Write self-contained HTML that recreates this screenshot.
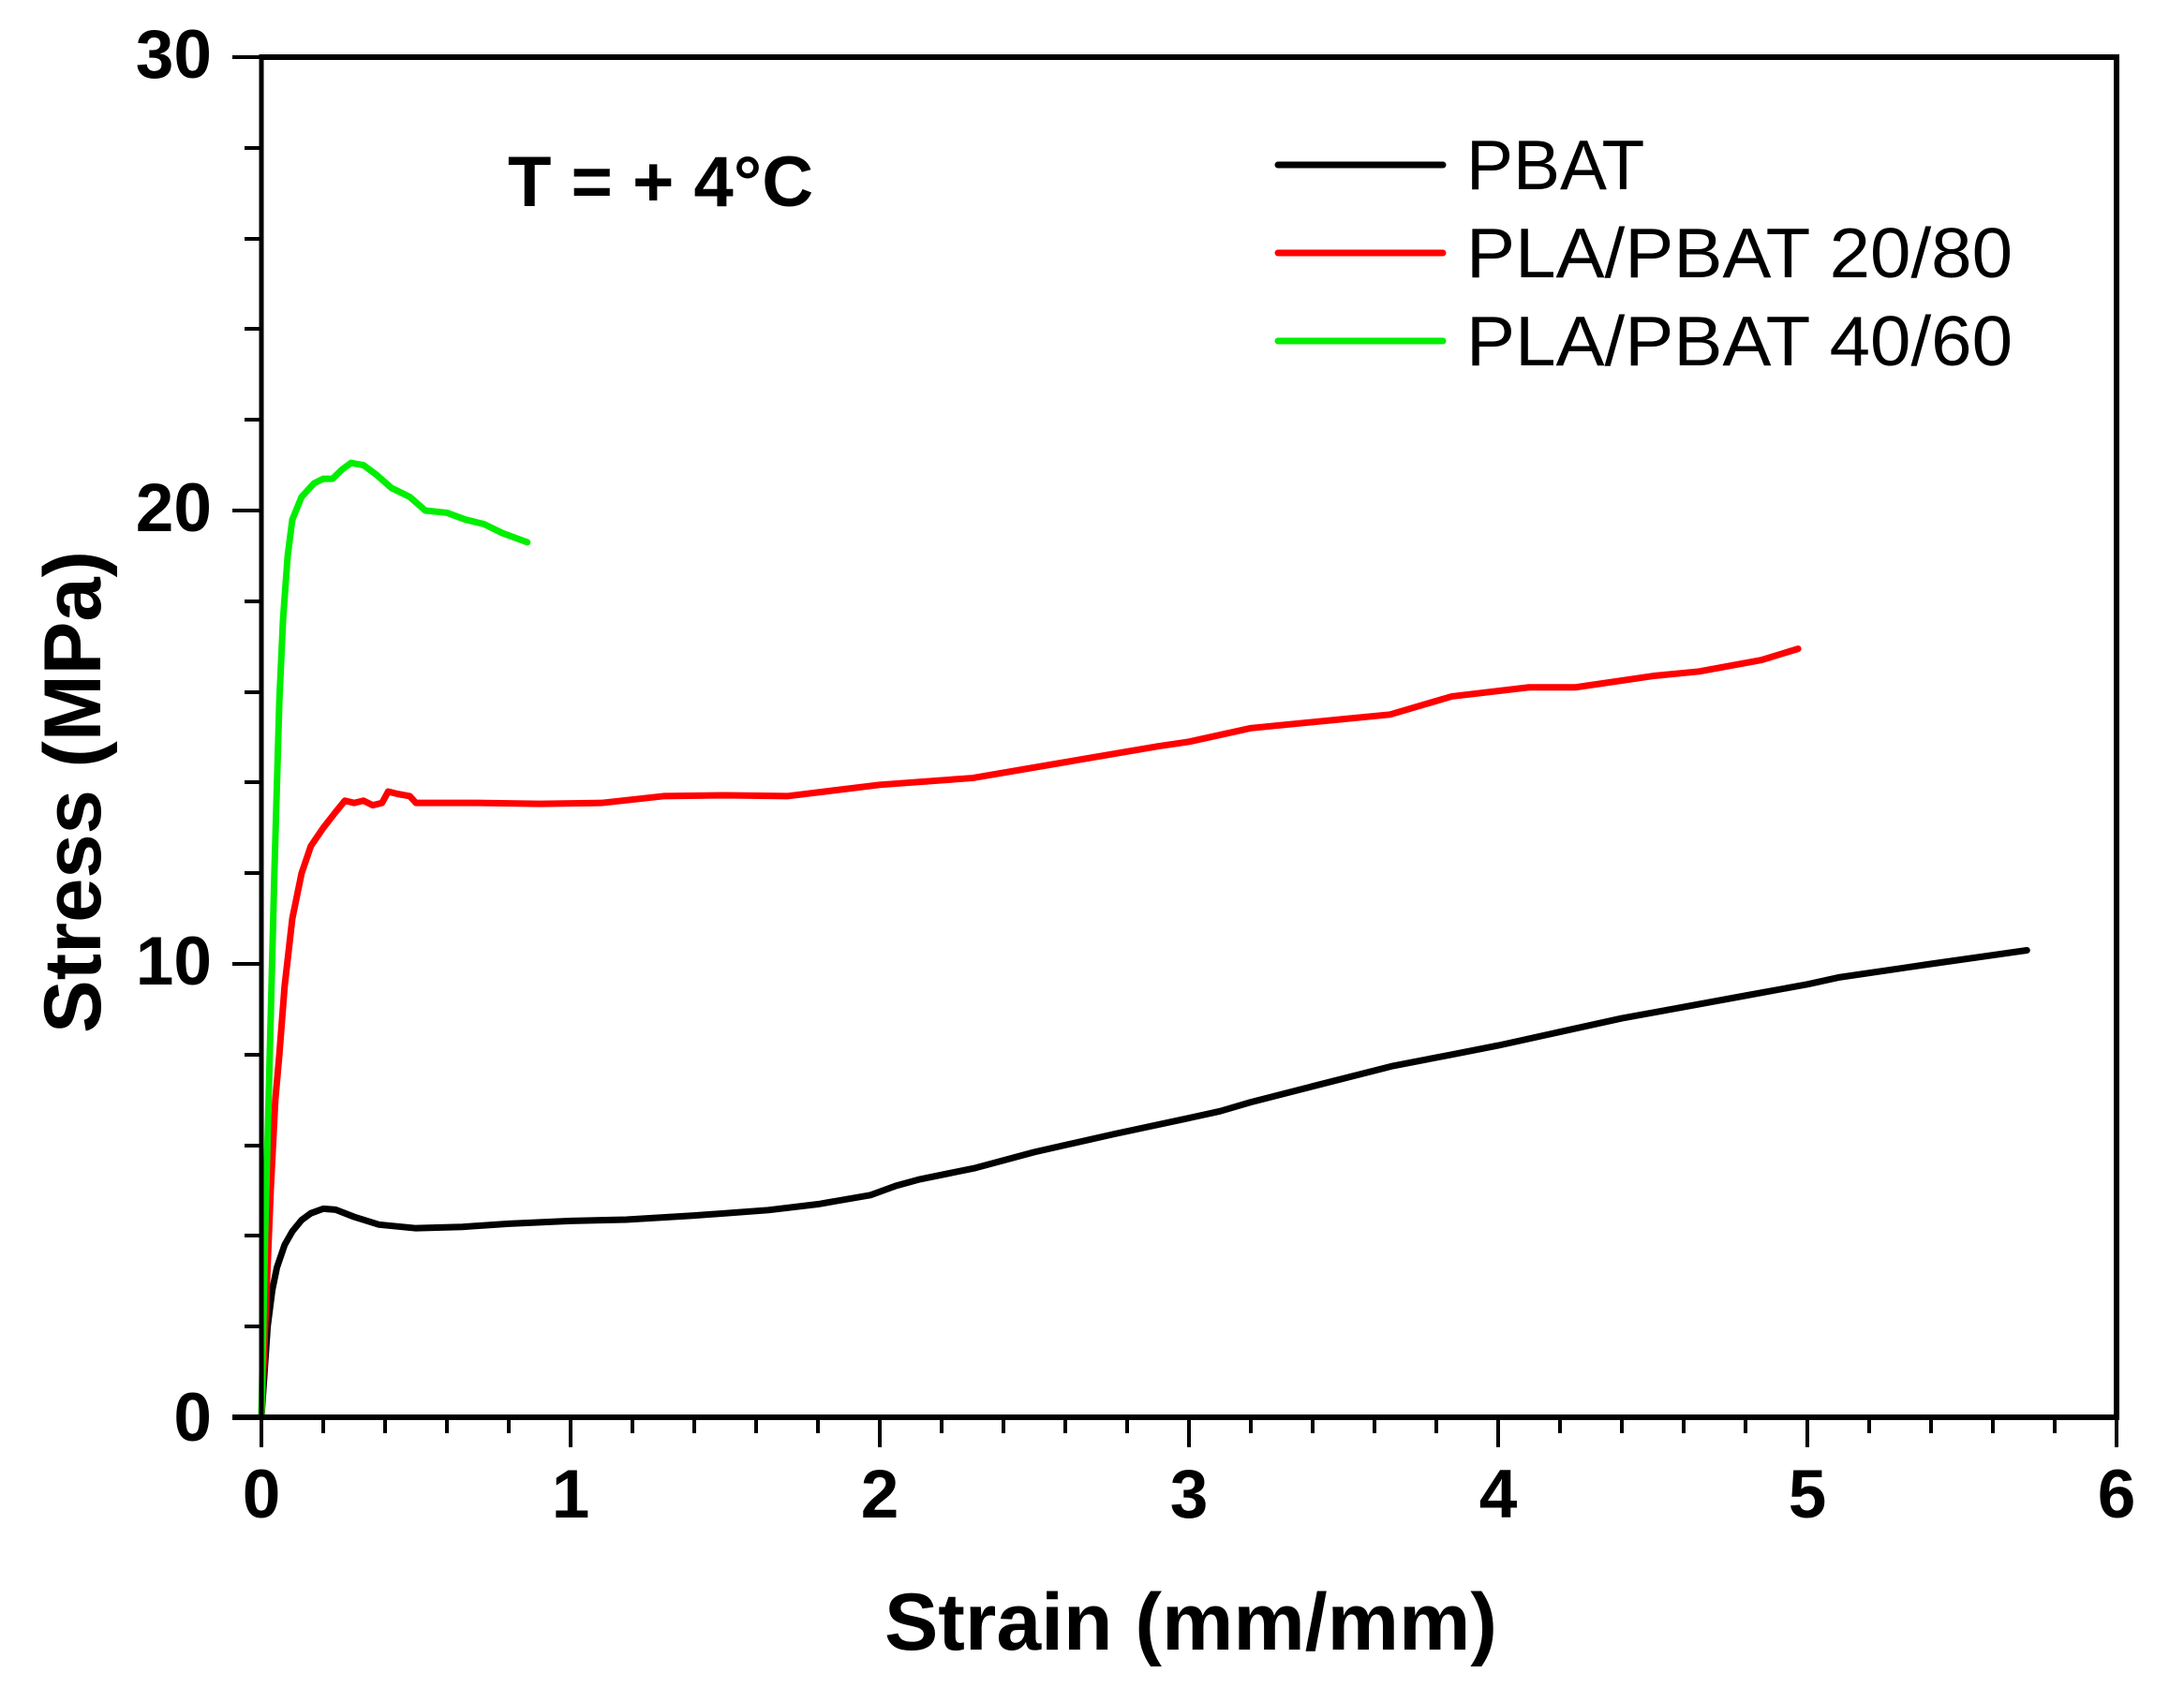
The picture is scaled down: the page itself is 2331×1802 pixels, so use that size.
<!DOCTYPE html>
<html><head><meta charset="utf-8"><style>html,body{margin:0;padding:0;background:#fff}svg{display:block}</style></head>
<body>
<svg width="2331" height="1802" viewBox="0 0 2331 1802" xmlns="http://www.w3.org/2000/svg" font-family="Liberation Sans, Arial, sans-serif">
<rect width="2331" height="1802" fill="#fff"/>
<g transform="translate(279,1513) scale(330,-48.4)" fill="none" stroke-linejoin="round" stroke-linecap="round">
<path vector-effect="non-scaling-stroke" stroke="#000" stroke-width="7" d="M0,0 L0.01,1 0.02,2 0.035,2.8 0.05,3.3 0.075,3.8 0.1,4.1 0.13,4.35 0.16,4.5 0.2,4.6 0.24,4.58 0.3,4.42 0.38,4.25 0.5,4.17 0.65,4.2 0.8,4.27 1.0,4.33 1.18,4.36 1.4,4.45 1.64,4.57 1.8,4.7 1.97,4.9 2.05,5.1 2.13,5.25 2.31,5.5 2.5,5.85 2.76,6.25 3.0,6.6 3.1,6.75 3.2,6.95 3.4,7.3 3.66,7.75 3.85,8.0 4.0,8.2 4.2,8.5 4.4,8.8 4.56,9.0 4.8,9.3 5.0,9.55 5.1,9.7 5.4,10.0 5.71,10.3"/>
<path vector-effect="non-scaling-stroke" stroke="#ff0000" stroke-width="7" d="M0,0 L0.015,2.5 0.03,5 0.045,7 0.058,8 0.075,9.5 0.1,11 0.13,12 0.16,12.6 0.2,13.0 0.24,13.35 0.27,13.6 0.3,13.55 0.33,13.6 0.36,13.5 0.39,13.55 0.41,13.8 0.44,13.75 0.48,13.7 0.5,13.55 0.7,13.55 0.9,13.53 1.1,13.55 1.3,13.7 1.5,13.72 1.7,13.7 2.0,13.95 2.3,14.1 2.6,14.45 2.9,14.8 3.0,14.9 3.2,15.2 3.5,15.4 3.65,15.5 3.85,15.9 4.1,16.1 4.25,16.1 4.5,16.35 4.65,16.45 4.85,16.7 4.97,16.95"/>
<path vector-effect="non-scaling-stroke" stroke="#00ee00" stroke-width="7" d="M0,0 L0.012,4 0.027,8 0.042,12 0.058,15.8 0.07,17.6 0.085,19 0.1,19.8 0.13,20.3 0.17,20.6 0.2,20.7 0.23,20.7 0.26,20.9 0.29,21.05 0.33,21.0 0.37,20.8 0.42,20.5 0.48,20.3 0.53,20.0 0.6,19.95 0.66,19.8 0.72,19.7 0.78,19.5 0.86,19.3"/>
</g>
<g stroke="#000" fill="none">
<path d="M279,61 H2259 V1513" stroke-width="6"/>
<path d="M279,58 V1513" stroke-width="5"/>
<path d="M248,1513 H2262" stroke-width="6"/>
<path stroke-width="4" d="M248,61H279M248,545H279M248,1029H279M261,158H279M261,255H279M261,351H279M261,448H279M261,642H279M261,739H279M261,835H279M261,932H279M261,1126H279M261,1223H279M261,1319H279M261,1416H279"/>
<path stroke-width="4" d="M279,1513V1545M609,1513V1545M939,1513V1545M1269,1513V1545M1599,1513V1545M1929,1513V1545M2259,1513V1545M345,1513V1530M411,1513V1530M477,1513V1530M543,1513V1530M675,1513V1530M741,1513V1530M807,1513V1530M873,1513V1530M1005,1513V1530M1071,1513V1530M1137,1513V1530M1203,1513V1530M1335,1513V1530M1401,1513V1530M1467,1513V1530M1533,1513V1530M1665,1513V1530M1731,1513V1530M1797,1513V1530M1863,1513V1530M1995,1513V1530M2061,1513V1530M2127,1513V1530M2193,1513V1530"/>
</g>
<g font-weight="bold" font-size="73" fill="#000">
<g text-anchor="end">
<text x="226" y="83">30</text><text x="226" y="567">20</text><text x="226" y="1051">10</text><text x="226" y="1538">0</text>
</g>
<g text-anchor="middle">
<text x="279" y="1620">0</text><text x="609" y="1620">1</text><text x="939" y="1620">2</text><text x="1269" y="1620">3</text><text x="1599" y="1620">4</text><text x="1929" y="1620">5</text><text x="2259" y="1620">6</text>
</g>
<text x="542" y="220" font-size="76">T = + 4°C</text>
<text x="944" y="1761" font-size="86" textLength="654" lengthAdjust="spacingAndGlyphs">Strain (mm/mm)</text>
<text transform="translate(107,1103) rotate(-90)" font-size="86" textLength="515" lengthAdjust="spacingAndGlyphs">Stress (MPa)</text>
</g>
<g stroke-width="7" stroke-linecap="round">
<line x1="1364" y1="176" x2="1540" y2="176" stroke="#000"/>
<line x1="1364" y1="270" x2="1540" y2="270" stroke="#ff0000"/>
<line x1="1364" y1="364" x2="1540" y2="364" stroke="#00ee00"/>
</g>
<g font-size="75" fill="#000">
<text x="1565" y="202">PBAT</text>
<text x="1565" y="296" textLength="583" lengthAdjust="spacingAndGlyphs">PLA/PBAT 20/80</text>
<text x="1565" y="390" textLength="583" lengthAdjust="spacingAndGlyphs">PLA/PBAT 40/60</text>
</g>
</svg>
</body></html>
